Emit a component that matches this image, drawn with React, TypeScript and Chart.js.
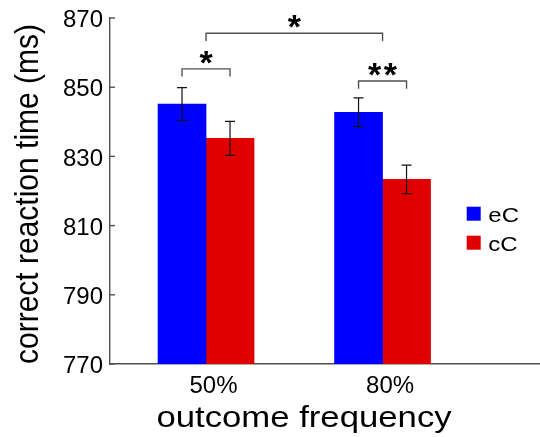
import React, { useEffect, useRef } from 'react';
import { Chart, registerables } from 'chart.js';

Chart.register(...registerables);

// ---- data ----
const categories = ['50%', '80%'];
const seriesNames = ['eC', 'cC'];
const seriesColors = ['#0000ff', '#e00000'];
const eCValues = [845.15, 842.75];
const cCValues = [835.2, 823.35];
const eCErrors = [4.75, 4.15];
const cCErrors = [4.9, 4.15];
const yTickValues = [770, 790, 810, 830, 850, 870];
const xTitle = 'outcome frequency';
const yTitle = 'correct reaction time (ms)';
// significance brackets: series -1 means the group centre
const brackets = [
  { group1: 0, series1: 0, group2: 0, series2: 1, y: 855.3, mark: '*' },
  { group1: 1, series1: 0, group2: 1, series2: 1, y: 851.8, mark: '**' },
  { group1: 0, series1: -1, group2: 1, series2: -1, y: 865.6, mark: '*' },
];

const seriesValues = [eCValues, cCValues];
const seriesErrors = [eCErrors, cCErrors];
const FONT = '"Liberation Sans", Arial, Helvetica, sans-serif';
const AXIS_COLOR = '#505050';

const overlayPlugin = {
  id: 'overlay',
  afterDatasetsDraw(chart: any) {
    const ctx = chart.ctx as CanvasRenderingContext2D;
    const xs = chart.scales.x;
    const ys = chart.scales.y;
    const area = chart.chartArea;
    ctx.save();

    // error bars
    ctx.strokeStyle = '#111';
    ctx.lineWidth = 1.2;
    seriesValues.forEach((vals, i) => {
      const meta = chart.getDatasetMeta(i);
      vals.forEach((v, j) => {
        const bar = meta.data[j];
        const x = bar.x;
        const yT = ys.getPixelForValue(v + seriesErrors[i][j]);
        const yB = ys.getPixelForValue(v - seriesErrors[i][j]);
        ctx.beginPath();
        ctx.moveTo(x, yT);
        ctx.lineTo(x, yB);
        ctx.moveTo(x - 5, yT);
        ctx.lineTo(x + 5, yT);
        ctx.moveTo(x - 5, yB);
        ctx.lineTo(x + 5, yB);
        ctx.stroke();
      });
    });

    // inward y ticks
    ctx.strokeStyle = AXIS_COLOR;
    ctx.lineWidth = 1.4;
    yTickValues.forEach((t) => {
      const y = ys.getPixelForValue(t);
      ctx.beginPath();
      ctx.moveTo(area.left, y);
      ctx.lineTo(area.left + 5, y);
      ctx.stroke();
    });

    // brackets
    const px = (g: number, s: number) =>
      s >= 0 ? chart.getDatasetMeta(s).data[g].x : xs.getPixelForValue(g + 1);
    brackets.forEach((b) => {
      const x1 = px(b.group1, b.series1);
      const x2 = px(b.group2, b.series2);
      const y = ys.getPixelForValue(b.y);
      ctx.strokeStyle = AXIS_COLOR;
      ctx.lineWidth = 1.4;
      ctx.beginPath();
      ctx.moveTo(x1, y + 7.7);
      ctx.lineTo(x1, y);
      ctx.lineTo(x2, y);
      ctx.lineTo(x2, y + 7.7);
      ctx.stroke();

      ctx.fillStyle = '#000';
      ctx.font = 'bold 34px ' + FONT;
      ctx.textAlign = 'center';
      ctx.textBaseline = 'alphabetic';
      const m = ctx.measureText('*');
      const cy = y - 11.5;
      const base = cy + (m.actualBoundingBoxAscent - m.actualBoundingBoxDescent) / 2;
      const cx = (x1 + x2) / 2;
      const n = b.mark.length;
      for (let k = 0; k < n; k++) {
        const off = (k - (n - 1) / 2) * 15.7;
        ctx.fillText('*', cx + off, base);
      }
    });
    ctx.restore();
  },
  afterDraw(chart: any) {
    const ctx = chart.ctx as CanvasRenderingContext2D;
    const xs = chart.scales.x;
    ctx.save();
    ctx.fillStyle = '#000';

    // x tick labels
    ctx.font = '24px ' + FONT;
    ctx.textAlign = 'center';
    ctx.textBaseline = 'alphabetic';
    categories.forEach((c, i) => {
      ctx.fillText(c, xs.getPixelForValue(i + 1) + 7.5, 393);
    });

    // x title
    ctx.save();
    ctx.translate(304, 427);
    ctx.scale(1.157, 1);
    ctx.font = '30px ' + FONT;
    ctx.textAlign = 'center';
    ctx.fillText(xTitle, 0, 0);
    ctx.restore();

    // y title
    ctx.save();
    ctx.translate(37.5, 194);
    ctx.rotate(-Math.PI / 2);
    ctx.scale(1, 1.1);
    ctx.font = '30px ' + FONT;
    ctx.textAlign = 'center';
    ctx.fillText(yTitle, 0, 0);
    ctx.restore();

    // legend
    seriesNames.forEach((name, i) => {
      const top = 206.7 + i * 29;
      ctx.fillStyle = seriesColors[i];
      ctx.fillRect(466.7, top, 14, 14);
      ctx.save();
      ctx.translate(488.3, top + 15);
      ctx.scale(1.2, 1);
      ctx.fillStyle = '#000';
      ctx.font = '20px ' + FONT;
      ctx.textAlign = 'left';
      ctx.fillText(name, 0, 0);
      ctx.restore();
    });
    ctx.restore();
  },
};

export default function App() {
  const ref = useRef<HTMLCanvasElement | null>(null);

  useEffect(() => {
    if (!ref.current) return;
    const chart = new Chart(ref.current, {
      type: 'bar',
      data: {
        datasets: seriesNames.map((name, i) => ({
          label: name,
          data: seriesValues[i].map((v, j) => ({ x: j + 1, y: v })),
          backgroundColor: seriesColors[i],
          borderWidth: 0,
          barThickness: 48,
        })),
      },
      options: {
        animation: false,
        responsive: false,
        devicePixelRatio: 1,
        layout: { padding: { top: 18, left: 0, right: 0, bottom: 0 } },
        plugins: { legend: { display: false }, tooltip: { enabled: false } },
        scales: {
          x: {
            type: 'linear',
            offset: false,
            min: 0.456,
            max: 2.892,
            grid: { display: false, drawTicks: false, offset: false },
            border: { display: true, color: AXIS_COLOR, width: 1.4 },
            ticks: { display: false },
            afterBuildTicks: (s: any) => {
              s.ticks = categories.map((_, i) => ({ value: i + 1 }));
            },
            afterFit: (s: any) => {
              s.height = 73;
              s.paddingLeft = 0;
              s.paddingRight = 0;
            },
          },
          y: {
            min: 770,
            max: 870,
            grid: { display: false, drawTicks: false },
            border: { display: true, color: AXIS_COLOR, width: 1.4 },
            ticks: {
              stepSize: 20,
              padding: 7,
              labelOffset: 2.5,
              color: '#000',
              font: { family: FONT, size: 24 },
            },
            afterBuildTicks: (s: any) => {
              s.ticks = yTickValues.map((v) => ({ value: v }));
            },
            afterFit: (s: any) => {
              s.width = 110;
              s.paddingTop = 0;
              s.paddingBottom = 0;
            },
          },
        },
      } as any,
      plugins: [overlayPlugin],
    });
    return () => chart.destroy();
  }, []);

  return (
    <div style={{ position: 'absolute', left: 0, top: 0, width: 540, height: 437, background: '#fff' }}>
      <canvas ref={ref} width={540} height={437} />
    </div>
  );
}
